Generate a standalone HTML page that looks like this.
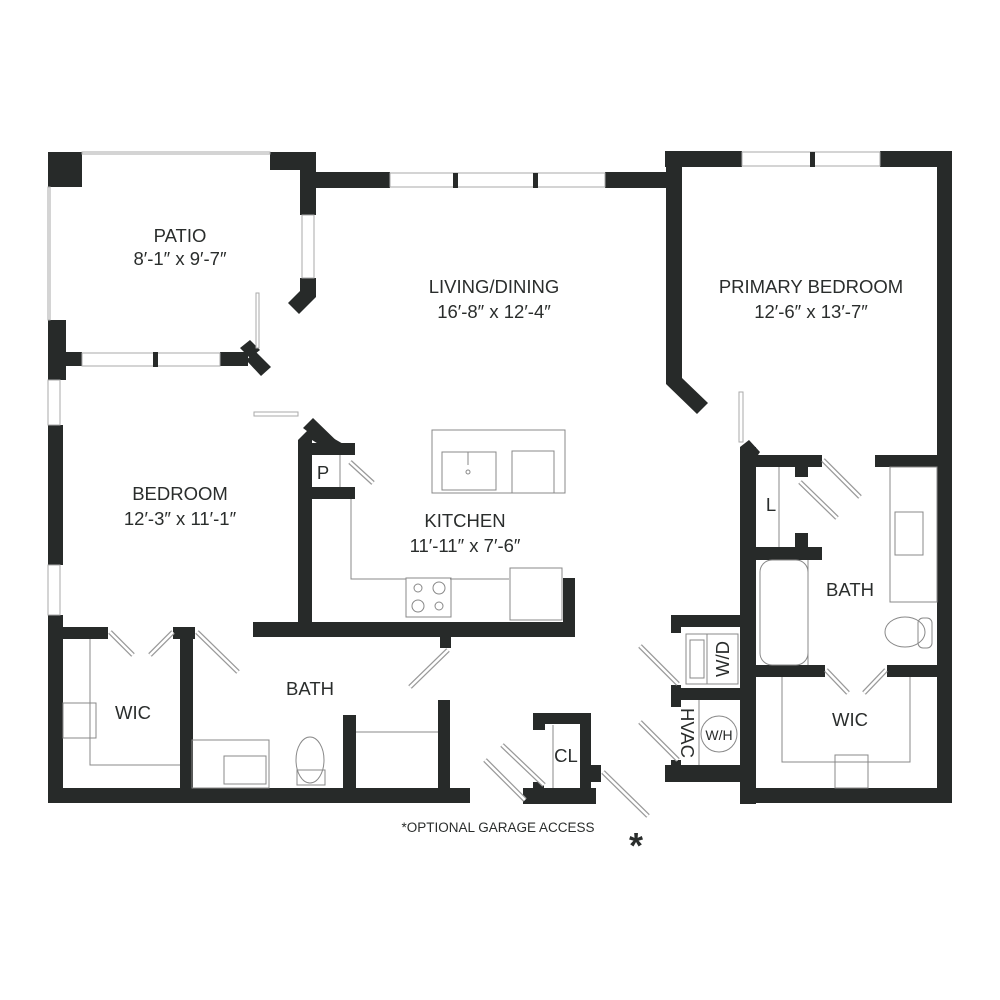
<!DOCTYPE html>
<html><head><meta charset="utf-8"><style>
html,body{margin:0;padding:0;background:#fff}
svg{display:block}
text{font-family:"Liberation Sans",sans-serif;fill:#2a2d2c}
</style></head><body>
<svg width="1000" height="1000" viewBox="0 0 1000 1000" xmlns="http://www.w3.org/2000/svg">
<g fill="#272a29">
<rect x="48" y="152" width="34" height="35"/>
<rect x="270" y="152" width="46" height="18"/>
<rect x="300" y="152" width="16" height="63"/>
<rect x="316" y="172" width="74" height="16"/>
<polygon points="300,278 316,278 316,297 299,314 288,303 300,291"/>
<rect x="48" y="320" width="18" height="60"/>
<rect x="66" y="352" width="16" height="14"/>
<rect x="220" y="352" width="28" height="14"/>
<polygon points="240,348 250,340 260,350 250,358"/>
<polygon points="246,360 256,352 271,367 261,376"/>
<rect x="605" y="172" width="63" height="16"/>
<rect x="665" y="151" width="77" height="16"/>
<rect x="666" y="151" width="16" height="227"/>
<polygon points="666,378 682,378 708,403 697,414 666,384"/>
<rect x="880" y="151" width="72" height="16"/>
<rect x="937" y="151" width="15" height="652"/>
<rect x="48" y="425" width="15" height="140"/>
<rect x="48" y="615" width="15" height="188"/>
<rect x="48" y="788" width="422" height="15"/>
<rect x="63" y="627" width="45" height="12"/>
<rect x="173" y="627" width="22" height="12"/>
<rect x="180" y="627" width="13" height="161"/>
<rect x="343" y="715" width="13" height="73"/>
<rect x="438" y="700" width="12" height="88"/>
<rect x="253" y="622" width="322" height="15"/>
<rect x="563" y="578" width="12" height="59"/>
<rect x="440" y="637" width="11" height="11"/>
<rect x="298" y="440" width="14" height="182"/>
<polygon points="298,440 312,426 345,445 336,455 312,440 312,448 298,448"/>
<polygon points="303,428 313,418 346,450 334,452"/>
<rect x="312" y="443" width="43" height="12"/>
<rect x="312" y="487" width="43" height="12"/>
<rect x="533" y="713" width="58" height="11"/>
<rect x="533" y="713" width="12" height="17"/>
<rect x="580" y="713" width="11" height="90"/>
<rect x="591" y="765" width="10" height="17"/>
<rect x="523" y="788" width="73" height="16"/>
<rect x="533" y="782" width="11" height="8"/>
<rect x="671" y="615" width="75" height="12"/>
<rect x="671" y="615" width="10" height="18"/>
<rect x="740" y="447" width="16" height="357"/>
<polygon points="740,447 749,440 760,452 756,458 745,458"/>
<rect x="671" y="688" width="72" height="12"/>
<rect x="671" y="685" width="10" height="22"/>
<rect x="665" y="765" width="78" height="17"/>
<rect x="671" y="760" width="10" height="6"/>
<rect x="745" y="455" width="77" height="12"/>
<rect x="795" y="455" width="13" height="22"/>
<rect x="875" y="455" width="62" height="12"/>
<rect x="756" y="547" width="66" height="13"/>
<rect x="795" y="533" width="13" height="14"/>
<rect x="756" y="665" width="69" height="12"/>
<rect x="887" y="665" width="50" height="12"/>
<rect x="740" y="788" width="212" height="15"/>
</g>
<g fill="#fff" stroke="#aaa" stroke-width="1">
<rect x="82" y="152" width="188" height="2"/>
<rect x="48" y="187" width="2" height="133"/>
<rect x="390" y="173" width="215" height="14"/>
<rect x="742" y="152" width="138" height="14"/>
<rect x="82" y="353" width="138" height="13"/>
<rect x="302" y="215" width="12" height="63"/>
<rect x="48" y="380" width="12" height="45"/>
<rect x="48" y="565" width="12" height="50"/>
<rect x="256" y="293" width="3" height="55"/>
<rect x="254" y="412" width="44" height="4"/>
<rect x="739" y="392" width="4" height="50"/>
</g>
<g fill="#272a29">
<rect x="453" y="173" width="5" height="15"/><rect x="533" y="173" width="5" height="15"/>
<rect x="810" y="152" width="5" height="15"/><rect x="153" y="352" width="5" height="15"/>
</g>
<g stroke="#999" stroke-width="5">
<line x1="110" y1="632" x2="133" y2="655"/><line x1="173" y1="632" x2="150" y2="655"/>
<line x1="197" y1="632" x2="238" y2="672"/>
<line x1="448" y1="650" x2="410" y2="687"/>
<line x1="350" y1="462" x2="373" y2="483"/>
<line x1="502" y1="745" x2="544" y2="785"/><line x1="485" y1="760" x2="525" y2="800"/>
<line x1="603" y1="772" x2="648" y2="816"/>
<line x1="640" y1="646" x2="678" y2="684"/><line x1="640" y1="722" x2="678" y2="760"/>
<line x1="823" y1="460" x2="860" y2="497"/><line x1="800" y1="482" x2="837" y2="518"/>
<line x1="826" y1="670" x2="848" y2="693"/><line x1="886" y1="670" x2="864" y2="693"/>
</g>
<g stroke="#fff" stroke-width="2.5">
<line x1="110" y1="632" x2="133" y2="655"/><line x1="173" y1="632" x2="150" y2="655"/>
<line x1="197" y1="632" x2="238" y2="672"/>
<line x1="448" y1="650" x2="410" y2="687"/>
<line x1="350" y1="462" x2="373" y2="483"/>
<line x1="502" y1="745" x2="544" y2="785"/><line x1="485" y1="760" x2="525" y2="800"/>
<line x1="603" y1="772" x2="648" y2="816"/>
<line x1="640" y1="646" x2="678" y2="684"/><line x1="640" y1="722" x2="678" y2="760"/>
<line x1="823" y1="460" x2="860" y2="497"/><line x1="800" y1="482" x2="837" y2="518"/>
<line x1="826" y1="670" x2="848" y2="693"/><line x1="886" y1="670" x2="864" y2="693"/>
</g>
<g fill="none" stroke="#888" stroke-width="1">
<line x1="340" y1="455" x2="340" y2="487"/>
<polyline points="351,499 351,579 406,579"/><line x1="450" y1="579" x2="509" y2="579"/>
<rect x="406" y="578" width="45" height="39"/>
<circle cx="418" cy="588" r="4"/><circle cx="439" cy="588" r="6"/><circle cx="418" cy="606" r="6"/><circle cx="439" cy="606" r="4"/>
<rect x="510" y="568" width="52" height="52"/>
<rect x="432" y="430" width="133" height="63"/>
<rect x="442" y="452" width="54" height="38"/><rect x="512" y="451" width="42" height="42"/>
<line x1="468" y1="452" x2="468" y2="465"/><circle cx="468" cy="472" r="2"/>
<polyline points="90,639 90,765 180,765"/><rect x="63" y="703" width="33" height="35"/>
<rect x="192" y="740" width="77" height="48"/><rect x="224" y="756" width="42" height="28"/>
<ellipse cx="310" cy="760" rx="14" ry="23"/><rect x="297" y="770" width="28" height="15"/>
<line x1="356" y1="732" x2="438" y2="732"/>
<line x1="779" y1="467" x2="779" y2="547"/>
<rect x="760" y="560" width="48" height="105" rx="12"/>
<line x1="808" y1="560" x2="808" y2="665"/>
<rect x="890" y="467" width="47" height="135"/><rect x="895" y="512" width="28" height="43"/>
<ellipse cx="905" cy="632" rx="20" ry="15"/><rect x="918" y="618" width="14" height="30" rx="5"/>
<rect x="686" y="634" width="52" height="50"/><rect x="690" y="640" width="14" height="38"/>
<line x1="707" y1="634" x2="707" y2="684"/>
<line x1="699" y1="700" x2="699" y2="765"/><circle cx="719" cy="734" r="18"/>
<line x1="553" y1="725" x2="553" y2="788"/>
<polyline points="782,677 782,762 910,762 910,677"/><rect x="835" y="755" width="33" height="33"/>
</g>
<g font-size="18.5" text-anchor="middle">
<text x="180" y="242">PATIO</text><text x="180" y="265">8′-1″ x 9′-7″</text>
<text x="494" y="293">LIVING/DINING</text><text x="494" y="318">16′-8″ x 12′-4″</text>
<text x="811" y="293">PRIMARY BEDROOM</text><text x="811" y="318">12′-6″ x 13′-7″</text>
<text x="180" y="500">BEDROOM</text><text x="180" y="525">12′-3″ x 11′-1″</text>
<text x="465" y="527">KITCHEN</text><text x="465" y="552">11′-11″ x 7′-6″</text>
<text x="310" y="695">BATH</text><text x="133" y="719">WIC</text>
<text x="850" y="596">BATH</text><text x="850" y="726">WIC</text>
<text x="566" y="762">CL</text><text x="771" y="511">L</text><text x="323" y="479">P</text>
<text transform="translate(729,659) rotate(-90)">W/D</text>
<text transform="translate(681,733) rotate(90)">HVAC</text>
</g>
<text x="719" y="740" font-size="14" text-anchor="middle">W/H</text>
<text x="498" y="832" font-size="13.5" text-anchor="middle">*OPTIONAL GARAGE ACCESS</text>
<text x="636" y="858" font-size="36" font-weight="bold" text-anchor="middle">*</text>
</svg>
</body></html>
